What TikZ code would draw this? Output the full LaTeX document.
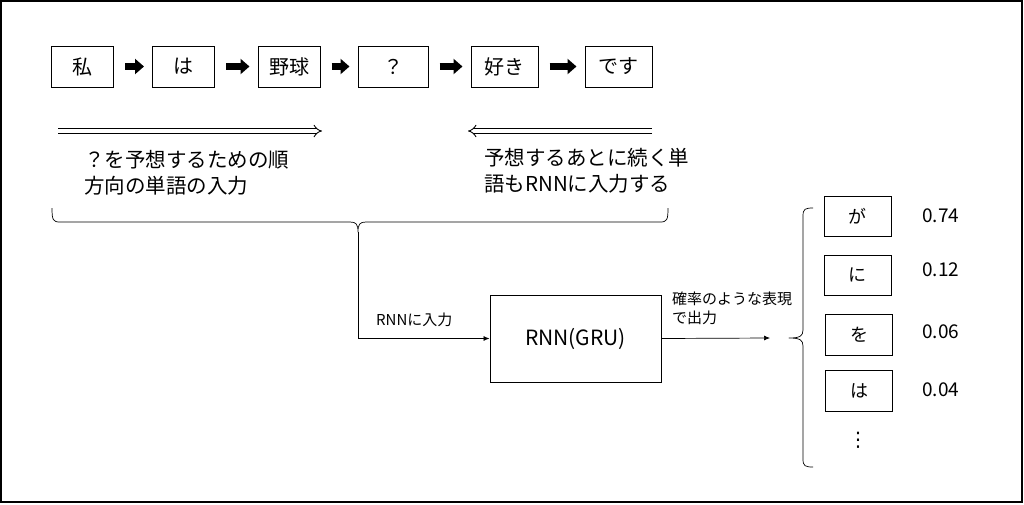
\documentclass[tikz,border=0pt]{standalone}
\usepackage{fontspec}
\setmainfont{Noto Sans CJK JP}
\newfontfamily\symfont{DejaVu Sans}
\usetikzlibrary{arrows.meta,positioning}

\begin{document}
\begin{tikzpicture}[x=1pt,y=-1pt,
  word/.style={draw,line width=1pt,minimum width=62pt,minimum height=41pt,inner sep=0pt,
    font=\fontsize{20}{20}\selectfont},
  cand/.style={draw,line width=1pt,minimum width=67pt,minimum height=40pt,inner sep=0pt,
    font=\fontsize{18}{18}\selectfont},
  next/.style={line width=7pt,-{Triangle[length=9pt,width=15pt]},shorten <=11pt,shorten >=8pt},
  flow/.style={double,double distance=3.5pt,line width=0.9pt,-{Implies[length=5pt]}},
  curly/.style={line width=0.7pt,line join=round},
  note/.style={align=left,inner sep=0pt,anchor=west,font=\fontsize{20.5}{26}\selectfont},
  small/.style={align=left,inner sep=0pt,anchor=west,font=\fontsize{15}{19}\selectfont},
  prob/.style={inner sep=0pt,anchor=west,font=\fontsize{19}{19}\selectfont}
  ]
  \useasboundingbox (0,0) rectangle (1024,504);
  \draw[line width=1.5pt] (1,1) rectangle (1022,502);

  % input sentence
  \node[word] (w1) at (82.5,66.5) {私};
  \node[word] (w2) at (183.5,66.5) {は};
  \node[word] (w3) at (289,66.5) {野球};
  \node[word,minimum width=70pt] (w4) at (393,66.5) {？};
  \node[word,minimum width=67pt] (w5) at (504.5,66.5) {好き};
  \node[word,minimum width=67pt] (w6) at (618.5,66.5) {です};
  \foreach \a/\b in {w1/w2,w2/w3,w3/w4,w4/w5,w5/w6}
    \draw[next] (\a) -- (\b);

  % reading directions
  \coordinate (fwd_s) at (58,131);
  \coordinate (fwd_e) at (322,131);
  \coordinate (bwd_s) at (652,131);
  \coordinate (bwd_e) at (468,131);
  \draw[flow] (fwd_s) -- (fwd_e);
  \draw[flow] (bwd_s) -- (bwd_e);
  \node[note] (fwd_txt) at (84,173) {？を予想するための順\\方向の単語の入力};
  \node[note] (bwd_txt) at (484,171) {予想するあとに続く単\\語もRNNに入力する};

  % gather into the RNN
  \coordinate (cusp) at (358,232);
  \draw[curly] (52,208) .. controls (52,220) and (53,222) .. (60,222) -- (350,222)
    .. controls (356,222) and (358,224) .. (cusp)
    .. controls (358,224) and (360,222) .. (366,222) -- (660,222)
    .. controls (667,222) and (668,220) .. (668,208);
  \node[draw,line width=1pt,minimum width=171pt,minimum height=87pt,
    font=\fontsize{21}{21}\selectfont] (rnn) at (575.5,338.5) {RNN(GRU)};
  \draw[line width=0.7pt,-{Latex[length=6pt,width=5pt]}] (cusp) |- (rnn.west);
  \node[small] (in_txt) at (376,320) {RNNに入力};

  % output
  \coordinate (out) at (770,338);
  \draw[line width=0.7pt,-{Latex[length=6pt,width=5pt]}] (rnn.east) -- (out);
  \node[small] (out_txt) at (672,308) {確率のような表現\\で出力};
  \coordinate (tip) at (789,338);
  \draw[curly] (813,208) .. controls (805,208) and (803,209) .. (803,216) -- (803,330)
    .. controls (803,336) and (800,338) .. (tip)
    .. controls (800,338) and (803,340) .. (803,346) -- (803,459)
    .. controls (803,466) and (805,467) .. (813,467);

  \node[cand] (c1) at (857.5,216) {が};
  \node[cand] (c2) at (857.5,275) {に};
  \node[cand,minimum height=41pt] (c3) at (859,334.5) {を};
  \node[cand,minimum height=41pt] (c4) at (859,390.5) {は};
  \node[font=\symfont\fontsize{20}{20}\selectfont,inner sep=0pt] (dots) at (858,440) {⋮};
  \node[prob] (p1) at (922,216) {0.74};
  \node[prob] (p2) at (922,270) {0.12};
  \node[prob] (p3) at (922,332) {0.06};
  \node[prob] (p4) at (922,390) {0.04};
\end{tikzpicture}
\end{document}
